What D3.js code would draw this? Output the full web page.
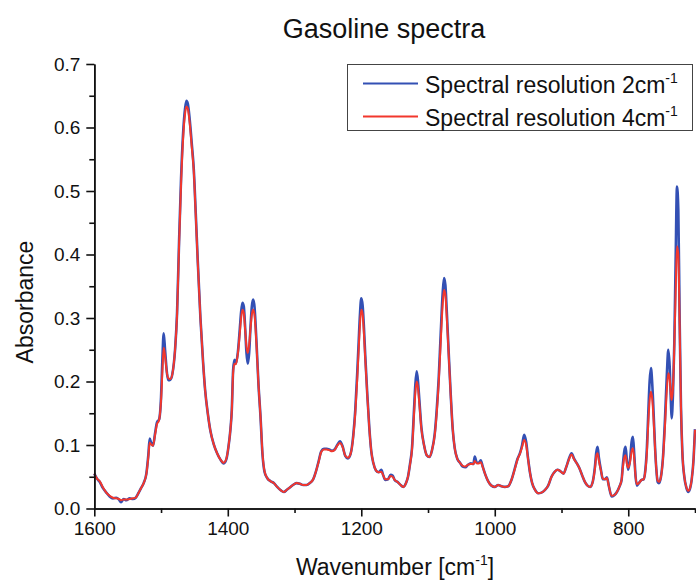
<!DOCTYPE html>
<html>
<head>
<meta charset="utf-8">
<script src="https://cdn.jsdelivr.net/npm/d3@7"></script>
<style>
  html, body { margin: 0; padding: 0; background: #fff; }
  svg { display: block; font-family: "Liberation Sans", Arial, sans-serif; }
</style>
</head>
<body>
<svg id="chart" width="696" height="582"></svg>
<script>
const title = "Gasoline spectra";
const xLabel = "Wavenumber [cm";
const yLabel = "Absorbance";
const seriesNames = ["Spectral resolution 2cm", "Spectral resolution 4cm"];
const seriesColors = ["#3350b4", "#f2372c"];

const xMajorTicks = [1600, 1400, 1200, 1000, 800];
const xMinorTicks = [1500, 1300, 1100, 900, 700];
const yMajorTicks = [0, 0.1, 0.2, 0.3, 0.4, 0.5, 0.6, 0.7];
const yMinorTicks = [0.05, 0.15, 0.25, 0.35, 0.45, 0.55, 0.65];

const wavenumber = [1600,1596,1592,1587,1582,1577,1572,1567,1563,1560,1556,1552,1547,1542,1538,1534,1530,1526,1522,1519,1517,1515,1512,1509,1506,1503,1500,1498,1496,1494,1491,1489,1486,1483,1479,1476,1473,1470,1467,1464,1462,1460,1457,1454,1451,1448,1445,1441,1437,1434,1430,1426,1421,1416,1411,1406,1402,1399,1396,1394,1392,1390,1388,1385,1382,1380,1378,1376,1374,1372,1370,1368,1366,1364,1362,1360,1357,1354,1351,1348,1345,1341,1336,1331,1326,1321,1316,1311,1306,1301,1297,1292,1287,1282,1277,1272,1268,1264,1260,1256,1252,1248,1244,1240,1236,1232,1228,1224,1220,1216,1212,1209,1206,1204,1202,1200,1198,1196,1194,1191,1188,1185,1182,1178,1174,1170,1167,1164,1160,1156,1153,1150,1146,1142,1137,1133,1130,1127,1124,1121,1119,1117,1115,1113,1110,1106,1102,1098,1094,1090,1087,1084,1081,1078,1076,1074,1072,1069,1066,1063,1060,1056,1052,1048,1044,1040,1036,1032,1030,1027,1024,1021,1018,1014,1010,1005,1000,995,990,985,980,975,970,966,962,959,956,953,950,947,944,940,935,930,925,920,915,910,906,902,897,893,889,885,881,877,873,869,865,861,857,853,850,848,846,844,841,838,835,832,829,825,821,817,813,810,808,806,804,802,800,797,795,793,791,789,787,784,780,777,775,772,770,768,766,764,762,760,758,756,754,751,748,745,742,740,738,736,735,733,731,729,727,725,723,721,719,716,713,710,707,705,702,700];

const res2 = [0.055,0.047,0.042,0.032,0.025,0.019,0.016,0.017,0.014,0.010,0.015,0.013,0.016,0.015,0.017,0.024,0.032,0.040,0.055,0.085,0.110,0.104,0.099,0.118,0.136,0.140,0.175,0.235,0.276,0.250,0.212,0.202,0.203,0.212,0.250,0.308,0.420,0.520,0.590,0.630,0.642,0.638,0.612,0.575,0.535,0.465,0.390,0.300,0.230,0.187,0.150,0.122,0.101,0.087,0.077,0.071,0.078,0.097,0.125,0.155,0.218,0.234,0.228,0.245,0.283,0.310,0.324,0.318,0.285,0.245,0.228,0.245,0.285,0.318,0.329,0.318,0.262,0.195,0.145,0.085,0.058,0.048,0.043,0.040,0.034,0.029,0.026,0.030,0.034,0.038,0.040,0.039,0.037,0.037,0.040,0.046,0.058,0.074,0.090,0.094,0.094,0.093,0.091,0.093,0.100,0.106,0.098,0.083,0.079,0.086,0.115,0.155,0.215,0.260,0.305,0.331,0.320,0.285,0.240,0.180,0.128,0.090,0.072,0.060,0.057,0.061,0.052,0.045,0.046,0.053,0.052,0.045,0.042,0.038,0.034,0.040,0.050,0.070,0.095,0.155,0.195,0.216,0.200,0.171,0.128,0.100,0.084,0.081,0.092,0.117,0.155,0.205,0.275,0.340,0.363,0.352,0.313,0.245,0.180,0.125,0.095,0.078,0.072,0.066,0.065,0.069,0.071,0.070,0.082,0.072,0.072,0.076,0.066,0.053,0.043,0.036,0.034,0.037,0.035,0.034,0.035,0.045,0.063,0.078,0.088,0.100,0.116,0.105,0.078,0.055,0.040,0.030,0.024,0.025,0.029,0.036,0.050,0.058,0.061,0.059,0.055,0.065,0.078,0.087,0.078,0.071,0.063,0.052,0.042,0.036,0.034,0.043,0.065,0.088,0.097,0.080,0.061,0.046,0.046,0.049,0.035,0.019,0.021,0.026,0.035,0.045,0.070,0.090,0.097,0.075,0.061,0.080,0.105,0.113,0.085,0.050,0.036,0.040,0.045,0.046,0.055,0.097,0.150,0.200,0.221,0.195,0.150,0.100,0.063,0.042,0.040,0.050,0.080,0.140,0.215,0.250,0.225,0.165,0.142,0.180,0.260,0.390,0.507,0.470,0.297,0.160,0.090,0.050,0.033,0.026,0.033,0.045,0.080,0.125];

const res4 = [0.055,0.047,0.043,0.033,0.025,0.020,0.017,0.016,0.015,0.013,0.014,0.014,0.015,0.016,0.017,0.024,0.032,0.040,0.054,0.082,0.104,0.101,0.099,0.116,0.133,0.139,0.170,0.215,0.253,0.240,0.212,0.205,0.204,0.212,0.250,0.305,0.415,0.512,0.582,0.622,0.633,0.630,0.606,0.570,0.532,0.462,0.388,0.300,0.230,0.187,0.150,0.122,0.101,0.087,0.077,0.072,0.079,0.097,0.125,0.154,0.214,0.228,0.227,0.243,0.276,0.300,0.313,0.308,0.282,0.255,0.245,0.258,0.283,0.305,0.313,0.305,0.258,0.195,0.145,0.087,0.059,0.048,0.043,0.040,0.034,0.029,0.026,0.030,0.034,0.038,0.040,0.039,0.037,0.037,0.040,0.046,0.058,0.073,0.089,0.093,0.093,0.092,0.090,0.092,0.099,0.103,0.097,0.083,0.080,0.086,0.113,0.150,0.205,0.248,0.290,0.313,0.306,0.275,0.235,0.178,0.127,0.090,0.072,0.060,0.057,0.058,0.052,0.046,0.046,0.051,0.050,0.045,0.042,0.038,0.034,0.040,0.050,0.069,0.093,0.148,0.183,0.200,0.190,0.165,0.126,0.100,0.084,0.081,0.092,0.115,0.150,0.198,0.262,0.322,0.344,0.336,0.303,0.242,0.178,0.125,0.095,0.078,0.072,0.067,0.066,0.069,0.070,0.070,0.075,0.071,0.071,0.073,0.065,0.053,0.043,0.036,0.034,0.037,0.035,0.034,0.035,0.045,0.062,0.077,0.087,0.097,0.108,0.100,0.077,0.055,0.040,0.030,0.024,0.025,0.029,0.036,0.050,0.058,0.061,0.059,0.055,0.065,0.077,0.085,0.077,0.071,0.063,0.052,0.042,0.036,0.034,0.043,0.062,0.082,0.087,0.075,0.060,0.047,0.046,0.048,0.035,0.020,0.021,0.026,0.035,0.045,0.065,0.080,0.084,0.070,0.064,0.075,0.090,0.095,0.078,0.050,0.038,0.040,0.045,0.046,0.054,0.090,0.135,0.170,0.184,0.172,0.140,0.098,0.063,0.044,0.042,0.050,0.078,0.130,0.190,0.213,0.205,0.178,0.171,0.190,0.255,0.340,0.413,0.400,0.290,0.160,0.090,0.050,0.034,0.028,0.034,0.045,0.080,0.124];

const svg = d3.select("#chart");
const plotLeft = 94.3, plotRight = 695, plotTop = 64, plotBottom = 508.5;

const x = d3.scaleLinear().domain([1600, 700]).range([plotLeft, plotRight]);
const y = d3.scaleLinear().domain([0, 0.7]).range([plotBottom, plotTop]);

const axisColor = "#111";

// Title
svg.append("text")
  .attr("x", 384).attr("y", 38)
  .attr("text-anchor", "middle")
  .attr("font-size", 27).attr("fill", "#111")
  .text(title);

// Series
const n = Math.min(wavenumber.length, res2.length, res4.length);
const line = d3.line()
  .x((d, i) => x(wavenumber[i]))
  .y(d => y(d))
  .curve(d3.curveMonotoneX);

svg.append("path").datum(res2.slice(0, n))
  .attr("d", line).attr("fill", "none")
  .attr("stroke", seriesColors[0]).attr("stroke-width", 2.6)
  .attr("stroke-linejoin", "round");
svg.append("path").datum(res4.slice(0, n))
  .attr("d", line).attr("fill", "none")
  .attr("stroke", seriesColors[1]).attr("stroke-width", 2)
  .attr("stroke-linejoin", "round");

// X axis
const gx = svg.append("g").attr("transform", `translate(0,${plotBottom})`);
gx.call(d3.axisBottom(x).tickValues(xMajorTicks).tickSize(8).tickSizeOuter(0).tickPadding(5).tickFormat(d3.format("d")));
gx.append("g").call(d3.axisBottom(x).tickValues(xMinorTicks).tickSize(4.5).tickSizeOuter(0).tickFormat(""));
gx.selectAll("path.domain").attr("stroke", axisColor).attr("stroke-width", 1.6);
gx.selectAll("line").attr("stroke", axisColor).attr("stroke-width", 1.6);
gx.selectAll("text").attr("font-size", 19).attr("fill", "#111").attr("font-family", "Liberation Sans, Arial, sans-serif");

// Y axis
const gy = svg.append("g").attr("transform", `translate(${plotLeft},0)`);
gy.call(d3.axisLeft(y).tickValues(yMajorTicks).tickSize(8).tickSizeOuter(0).tickPadding(6).tickFormat(d3.format(".1f")));
gy.append("g").call(d3.axisLeft(y).tickValues(yMinorTicks).tickSize(5).tickSizeOuter(0).tickFormat(""));
gy.selectAll("path.domain").attr("stroke", axisColor).attr("stroke-width", 1.6);
gy.selectAll("line").attr("stroke", axisColor).attr("stroke-width", 1.6);
gy.selectAll("text").attr("font-size", 19).attr("fill", "#111").attr("font-family", "Liberation Sans, Arial, sans-serif");

// X label
const xl = svg.append("text")
  .attr("x", 395).attr("y", 575)
  .attr("text-anchor", "middle")
  .attr("font-size", 23).attr("fill", "#111");
xl.append("tspan").text(xLabel);
xl.append("tspan").attr("font-size", 14).attr("dy", -10).text("-1");
xl.append("tspan").attr("dy", 10).text("]");

// Y label
svg.append("text")
  .attr("transform", "translate(33,302) rotate(-90)")
  .attr("text-anchor", "middle")
  .attr("font-size", 23).attr("fill", "#111")
  .text(yLabel);

// Legend
const lg = svg.append("g");
lg.append("rect")
  .attr("x", 347.5).attr("y", 64.5).attr("width", 345).attr("height", 66)
  .attr("fill", "#fff").attr("stroke", "#444").attr("stroke-width", 1);
const legendRows = [83.5, 116.5];
seriesNames.forEach((name, i) => {
  lg.append("line")
    .attr("x1", 363).attr("x2", 418)
    .attr("y1", legendRows[i]).attr("y2", legendRows[i])
    .attr("stroke", seriesColors[i]).attr("stroke-width", 2);
  const t = lg.append("text")
    .attr("x", 425).attr("y", legendRows[i] + 9)
    .attr("font-size", 23).attr("fill", "#111");
  t.append("tspan").text(name);
  t.append("tspan").attr("font-size", 14).attr("dy", -10).text("-1");
});
</script>
</body>
</html>
